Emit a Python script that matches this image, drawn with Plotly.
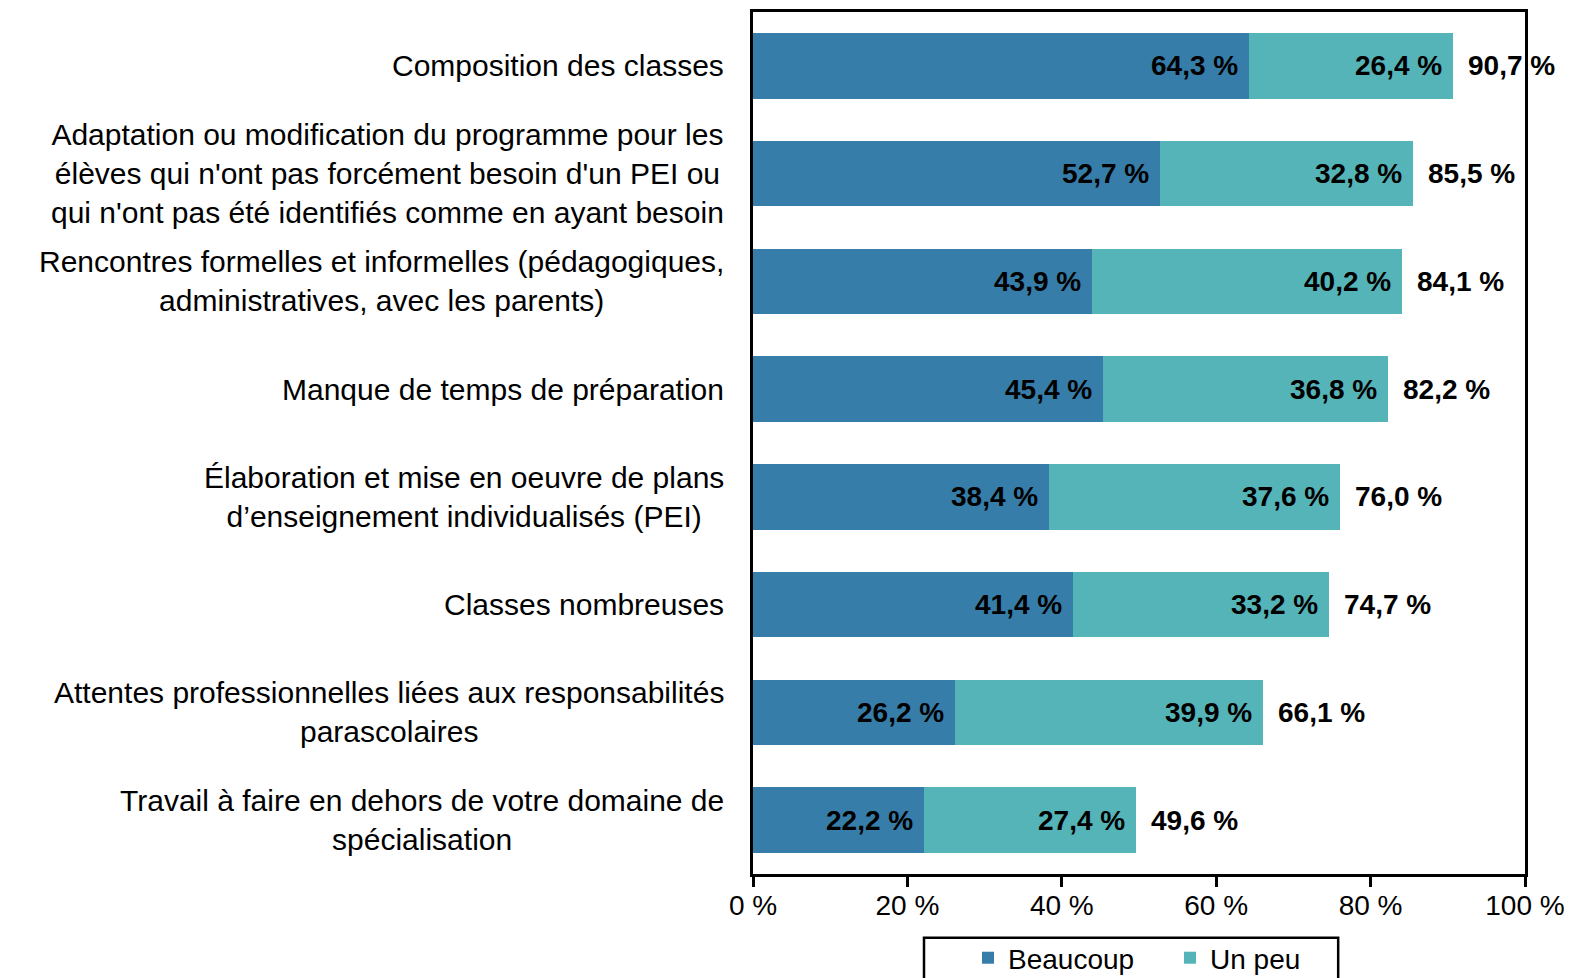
import plotly.graph_objects as go

# Data
categories = [
    "Composition des classes",
    "Adaptation ou modification du programme pour les<br>élèves qui n'ont pas forcément besoin d'un PEI ou<br>qui n'ont pas été identifiés comme en ayant besoin",
    "Rencontres formelles et informelles (pédagogiques,<br>administratives, avec les parents)",
    "Manque de temps de préparation",
    "Élaboration et mise en oeuvre de plans<br>d’enseignement individualisés (PEI)",
    "Classes nombreuses",
    "Attentes professionnelles liées aux responsabilités<br>parascolaires",
    "Travail à faire en dehors de votre domaine de<br>spécialisation",
]
beaucoup = [64.3, 52.7, 43.9, 45.4, 38.4, 41.4, 26.2, 22.2]
un_peu = [26.4, 32.8, 40.2, 36.8, 37.6, 33.2, 39.9, 27.4]
totals = [90.7, 85.5, 84.1, 82.2, 76.0, 74.7, 66.1, 49.6]

tick_vals = [0, 20, 40, 60, 80, 100]
tick_text = ["0 %", "20 %", "40 %", "60 %", "80 %", "100 %"]

series_names = ["Beaucoup", "Un peu"]
colors = ["#367DA9", "#55B4B8"]

FONT = "Liberation Sans, Arial, sans-serif"


def fmt(v):
    return f"{v:.1f}".replace(".", ",") + " %"


keys = list(range(len(categories)))

fig = go.Figure()
for name, vals, col in zip(series_names, [beaucoup, un_peu], colors):
    fig.add_trace(go.Bar(
        y=keys,
        x=vals,
        name=name,
        orientation="h",
        marker=dict(color=col, line=dict(width=0)),
        hoverinfo="x+name",
    ))

annotations = []
for i, cat in enumerate(categories):
    # category label: centred lines, block right-aligned against the axis
    annotations.append(dict(
        x=0, xref="paper", y=i, yref="y",
        text=cat, showarrow=False,
        xanchor="right", yanchor="middle", align="center",
        xshift=-27,
        font=dict(family=FONT, size=30, color="black"),
    ))
    b_end = beaucoup[i]
    u_end = beaucoup[i] + un_peu[i]
    annotations.append(dict(
        x=b_end, y=i, text=f"<b>{fmt(beaucoup[i])}</b>", showarrow=False,
        xanchor="right", xshift=-9,
        font=dict(family=FONT, size=28, color="black"),
    ))
    annotations.append(dict(
        x=u_end, y=i, text=f"<b>{fmt(un_peu[i])}</b>", showarrow=False,
        xanchor="right", xshift=-9,
        font=dict(family=FONT, size=28, color="black"),
    ))
    annotations.append(dict(
        x=u_end, y=i, text=f"<b>{fmt(totals[i])}</b>", showarrow=False,
        xanchor="left", xshift=13,
        font=dict(family=FONT, size=28, color="black"),
    ))

# page body has an 8px default margin, so the figure is a bit smaller than the window
fig.update_layout(
    width=1572,
    height=970,
    margin=dict(l=745, r=55, t=1, b=104),
    barmode="stack",
    bargap=0.39,
    plot_bgcolor="white",
    paper_bgcolor="white",
    font=dict(family=FONT, size=28, color="black"),
    xaxis=dict(
        range=[0, 100],
        tickvals=tick_vals,
        ticktext=tick_text,
        showgrid=False,
        zeroline=False,
        showline=True,
        linecolor="black",
        linewidth=3,
        mirror=True,
        ticks="outside",
        ticklen=10,
        tickwidth=3,
        tickcolor="black",
        ticklabelstandoff=-6,
        tickfont=dict(family=FONT, size=28, color="black"),
        fixedrange=True,
    ),
    yaxis=dict(
        range=[len(categories) - 0.5, -0.5],
        showticklabels=False,
        showgrid=False,
        zeroline=False,
        showline=True,
        linecolor="black",
        linewidth=3,
        mirror=True,
        ticks="",
        fixedrange=True,
    ),
    legend=dict(
        orientation="h",
        traceorder="normal",
        xref="container",
        yref="container",
        x=0.6107,
        xanchor="left",
        y=0.0206,
        yanchor="middle",
        font=dict(family=FONT, size=28, color="black"),
        bgcolor="rgba(0,0,0,0)",
        entrywidth=157,
        entrywidthmode="pixels",
        itemclick=False,
    ),
    annotations=annotations,
    shapes=[dict(
        type="rect", xref="paper", yref="paper",
        x0=0.2215, x1=0.758, y0=-0.074, y1=-0.14,
        line=dict(color="black", width=2.5),
        fillcolor="rgba(0,0,0,0)",
    )],
    showlegend=True,
)

fig.write_html("out.html")
